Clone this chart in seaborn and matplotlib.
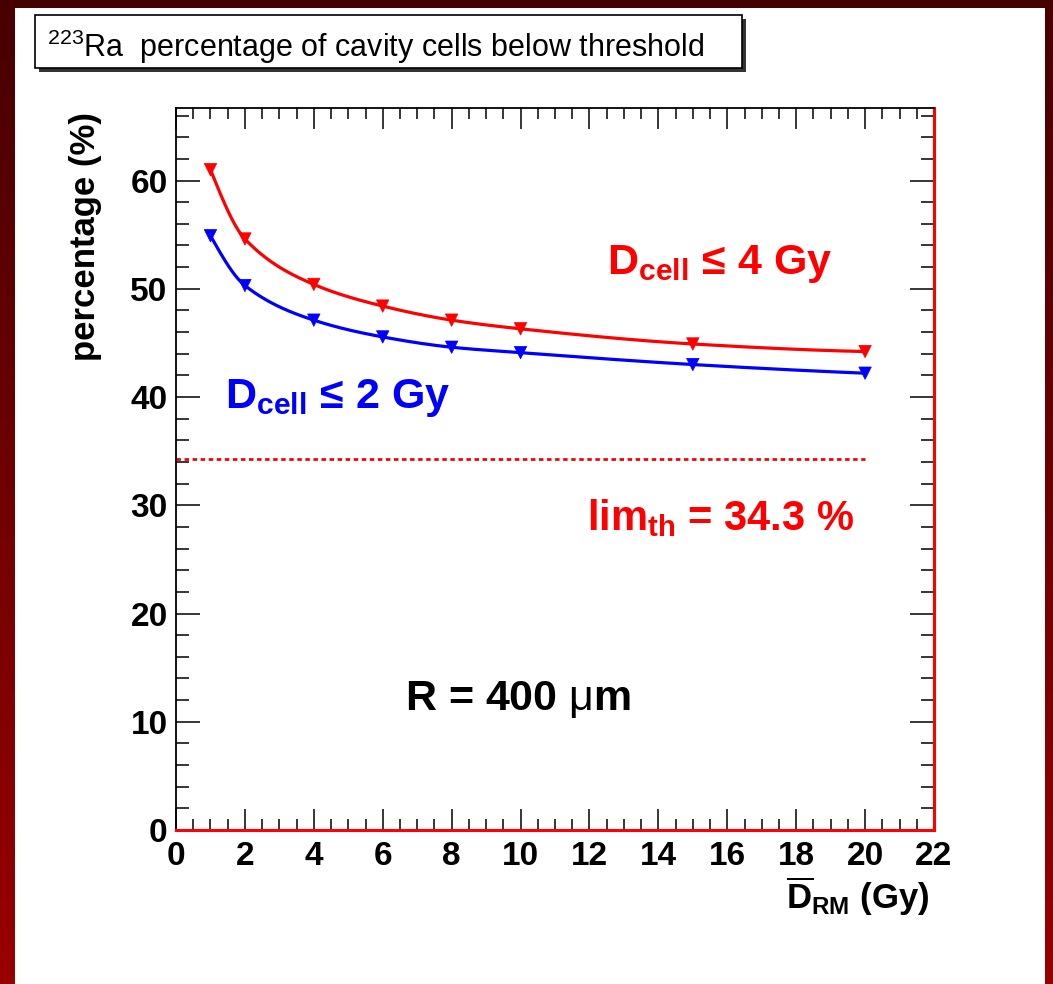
import numpy as np
import pandas as pd
import matplotlib
matplotlib.use("Agg")
import matplotlib.pyplot as plt
import seaborn as sns
from matplotlib.patches import Rectangle
from matplotlib.ticker import MultipleLocator

# ---------------- data ----------------
dose_rm = [1, 2, 4, 6, 8, 10, 15, 20]                     # mean dose D_RM (Gy)
pct_le4 = [61.0, 54.6, 50.4, 48.4, 47.1, 46.3, 44.9, 44.2]  # D_cell <= 4 Gy
pct_le2 = [54.9, 50.3, 47.1, 45.55, 44.6, 44.1, 43.0, 42.2] # D_cell <= 2 Gy
lim_th = 34.3
lim_x = [0, 20]
x_range = [0, 22]
y_range = [0, 66.7]

title_txt = r"$^{\mathregular{223}}$Ra  percentage of cavity cells below threshold"
xlabel_txt = r"$\mathbf{\overline{D}}_{\mathbf{RM}}$ (Gy)"
ylabel_txt = "percentage (%)"
lab4_txt = r"$\mathbf{D}_{\mathbf{cell}}$ ≤ 4 Gy"
lab2_txt = r"$\mathbf{D}_{\mathbf{cell}}$ ≤ 2 Gy"
lim_txt = r"lim$_{\mathbf{th}}$ = 34.3 %"
r_txt = r"R = 400 $\mathrm{\mu}$m"

# ---------------- style ----------------
sns.set_theme(style="ticks")
plt.rcParams["font.family"] = ["Liberation Sans", "DejaVu Sans"]
plt.rcParams["mathtext.fontset"] = "custom"
plt.rcParams["mathtext.rm"] = "Liberation Sans"
plt.rcParams["mathtext.bf"] = "Liberation Sans:bold"
plt.rcParams["mathtext.it"] = "Liberation Sans:italic"
plt.rcParams["mathtext.sf"] = "Liberation Sans"
for k in ["text.color", "axes.labelcolor", "xtick.color", "ytick.color",
          "xtick.labelcolor", "ytick.labelcolor"]:
    plt.rcParams[k] = "black"

W, H = 1053, 984
fig = plt.figure(figsize=(W / 100, H / 100), dpi=100)
fig.patch.set_facecolor("white")

# background gradient frame
ax_bg = fig.add_axes([0, 0, 1, 1], zorder=-10)
grad = np.linspace(0, 1, 256).reshape(-1, 1)
top_c = np.array([0.28, 0.0, 0.0])
bot_c = np.array([0.60, 0.0, 0.0])
img = top_c[None, None, :] * (1 - grad[:, :, None]) + bot_c[None, None, :] * grad[:, :, None]
ax_bg.imshow(img, extent=(0, 1, 0, 1), aspect="auto", origin="upper")
ax_bg.add_patch(Rectangle((15 / W, 0), (1045 - 15) / W, (984 - 8) / H,
                          transform=ax_bg.transAxes, facecolor="white", edgecolor="none"))
ax_bg.set_xlim(0, 1); ax_bg.set_ylim(0, 1)
ax_bg.axis("off")

# title box
sh = 4
fig.patches.append(Rectangle(((35 + sh) / W, 1 - (68 + sh) / H), (742 - 35) / W, (68 - 15) / H,
                             transform=fig.transFigure, facecolor="#333333", edgecolor="none", zorder=1))
fig.patches.append(Rectangle((35 / W, 1 - 68 / H), (742 - 35) / W, (68 - 15) / H,
                             transform=fig.transFigure, facecolor="white", edgecolor="black",
                             linewidth=1.2, zorder=2))
fig.text(47 / W, 1 - 57 / H, title_txt, fontsize=22, ha="left", va="baseline",
         color="black", zorder=3)

# main axes
L, R_, T, B = 176, 934, 108, 830
ax = fig.add_axes([L / W, 1 - B / H, (R_ - L) / W, (B - T) / H])
ax.set_facecolor("white")


def pchip(x, y, xs):
    x = np.asarray(x, float); y = np.asarray(y, float)
    h = np.diff(x); d = np.diff(y) / h
    n = len(x); m = np.zeros(n)
    for k in range(1, n - 1):
        if d[k - 1] * d[k] > 0:
            w1 = 2 * h[k] + h[k - 1]; w2 = h[k] + 2 * h[k - 1]
            m[k] = (w1 + w2) / (w1 / d[k - 1] + w2 / d[k])
    m0 = ((2 * h[0] + h[1]) * d[0] - h[0] * d[1]) / (h[0] + h[1])
    if np.sign(m0) != np.sign(d[0]):
        m0 = 0
    m[0] = m0
    mn = ((2 * h[-1] + h[-2]) * d[-1] - h[-1] * d[-2]) / (h[-1] + h[-2])
    if np.sign(mn) != np.sign(d[-1]):
        mn = 0
    m[-1] = mn
    idx = np.clip(np.searchsorted(x, xs) - 1, 0, n - 2)
    t = (xs - x[idx]) / h[idx]
    h00 = 2 * t**3 - 3 * t**2 + 1; h10 = t**3 - 2 * t**2 + t
    h01 = -2 * t**3 + 3 * t**2; h11 = t**3 - t**2
    return h00 * y[idx] + h10 * h[idx] * m[idx] + h01 * y[idx + 1] + h11 * h[idx] * m[idx + 1]


xs = np.linspace(dose_rm[0], dose_rm[-1], 400)
curves = pd.concat([
    pd.DataFrame({"x": xs, "y": pchip(dose_rm, pct_le4, xs), "s": "le4"}),
    pd.DataFrame({"x": xs, "y": pchip(dose_rm, pct_le2, xs), "s": "le2"}),
])
pts = pd.concat([
    pd.DataFrame({"x": dose_rm, "y": pct_le4, "s": "le4"}),
    pd.DataFrame({"x": dose_rm, "y": pct_le2, "s": "le2"}),
])
pal = {"le4": "#ff0000", "le2": "#0000ff"}

sns.lineplot(data=curves, x="x", y="y", hue="s", palette=pal, linewidth=2.3,
             legend=False, ax=ax, estimator=None, sort=False)
sns.scatterplot(data=pts, x="x", y="y", hue="s", palette=pal, marker="v", s=80,
                linewidth=0.5, edgecolor=None, legend=False, ax=ax, zorder=5)
for coll in ax.collections:
    coll.set_edgecolor(coll.get_facecolor())

ax.plot(lim_x, [lim_th, lim_th], color="#ff0000", linewidth=2.0, linestyle=(0, (1.6, 1.3)))

ax.set_xlim(*x_range)
ax.set_ylim(*y_range)
ax.xaxis.set_major_locator(MultipleLocator(2))
ax.xaxis.set_minor_locator(MultipleLocator(0.5))
ax.yaxis.set_major_locator(MultipleLocator(10))
ax.yaxis.set_minor_locator(MultipleLocator(2))

ax.tick_params(axis="both", which="both", direction="in", top=True, right=True,
               color="black", labelcolor="black", width=1.1)
ax.tick_params(axis="x", which="major", length=15, pad=8, labelsize=24)
ax.tick_params(axis="x", which="minor", length=8)
ax.tick_params(axis="y", which="major", length=17, pad=6, labelsize=24)
ax.tick_params(axis="y", which="minor", length=9.5)
for lab in ax.get_xticklabels() + ax.get_yticklabels():
    lab.set_fontweight("bold")

for s in ["left", "top"]:
    ax.spines[s].set_color("black"); ax.spines[s].set_linewidth(1.3)
for s in ["right", "bottom"]:
    ax.spines[s].set_color("#ff0000"); ax.spines[s].set_linewidth(2.2)

ax.set_xlabel(xlabel_txt, fontsize=25, fontweight="bold", loc="right", color="black")
ax.xaxis.set_label_coords((930 - L) / (R_ - L), (B - 874) / (B - T))
ax.set_ylabel(ylabel_txt, fontsize=25, fontweight="bold", loc="top", color="black")
ax.yaxis.set_label_coords((102 - L) / (R_ - L), (B - 112) / (B - T))

ax.text(12.5, 51.4, lab4_txt, color="#ff0000", fontsize=31, fontweight="bold",
        ha="left", va="baseline")
ax.text(1.42, 39.0, lab2_txt, color="#0000ff", fontsize=31, fontweight="bold",
        ha="left", va="baseline")
ax.text(11.93, 27.7, lim_txt, color="#ff0000", fontsize=30, fontweight="bold",
        ha="left", va="baseline")
ax.text(6.65, 11.1, r_txt, color="black", fontsize=31, fontweight="bold",
        ha="left", va="baseline")

fig.savefig("out.png", dpi=100, facecolor=fig.get_facecolor())
